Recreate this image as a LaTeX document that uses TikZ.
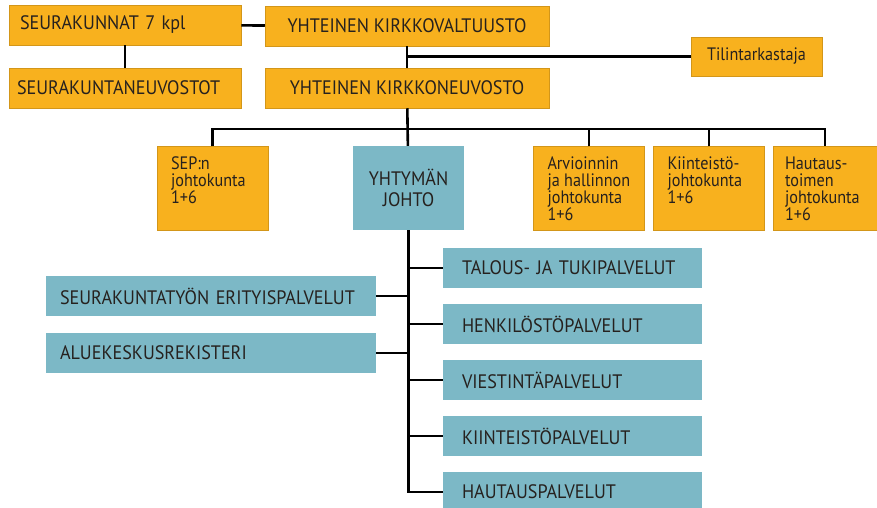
\documentclass[tikz,border=0pt]{standalone}
\usepackage{fontspec}
\setmainfont{PT Sans}[FakeStretch=0.93]
\newfontfamily\BoardFont{PT Sans}[FakeStretch=0.9]
\usepackage{tikz}
\usepackage{xcolor}
\definecolor{ColOrange}{RGB}{248,177,30}
\definecolor{ColBlue}{RGB}{124,184,198}
\definecolor{ColText}{RGB}{38,33,30}
\tikzstyle{OrgBox}=[rectangle,draw=ColOrange!85!black,line width=.5pt,fill=ColOrange,
text=ColText,font=\fontsize{19.5}{21}\selectfont,inner sep=0pt,minimum height=40pt]
\tikzstyle{BoardBox}=[OrgBox,font=\BoardFont\fontsize{18}{17}\selectfont,inner ysep=10pt]
\tikzstyle{ServBox}=[rectangle,fill=ColBlue,text=ColText,
font=\fontsize{19.5}{21}\selectfont,inner sep=0pt,minimum height=40pt]
\tikzstyle{LeftText}=[align=left]
\tikzstyle{EdgeOrg}=[black,line width=2.6pt]
\newcommand{\BoardText}[2][83pt]{\parbox[c][64pt][t]{#1}{\raggedright #2}}

\begin{document}
\begin{tikzpicture}[x=1pt,y=-1pt]
        \useasboundingbox(0,0)rectangle(877,508);
        % ylin taso
        \node[OrgBox,LeftText,text width=210pt,inner xsep=11pt](SeurK)at(125,25){SEURAKUNNAT 7 kpl};
        \node[OrgBox,minimum width=284pt](KValt)at(407,26){YHTEINEN KIRKKOVALTUUSTO};
        \node[OrgBox,LeftText,text width=216pt,inner xsep=8pt](SeurN)at(125,88){SEURAKUNTANEUVOSTOT};
        \node[OrgBox,minimum width=284pt](KNeuv)at(407,88){YHTEINEN KIRKKONEUVOSTO};
        \node[OrgBox,font=\BoardFont\fontsize{18}{17}\selectfont,minimum width=131pt,minimum height=39pt](Tilin)at(756.5,56.5){Tilintarkastaja};
        % johtokunnat
        \node[BoardBox,inner xsep=14pt](Sep)at(212.5,188.5){\BoardText{SEP:n\\johtokunta\\1+6}};
        \node[ServBox,align=center,minimum width=111pt,minimum height=84pt](Johto)at(408.5,188){YHTYMÄN\\JOHTO};
        \node[BoardBox,inner xsep=14pt](Arv)at(589,188.5){\BoardText{Arvioinnin\\ja~hallinnon\\johtokunta\\1+6}};
        \node[BoardBox,inner xsep=14pt](Kiin)at(709,188.5){\BoardText{Kiinteistö-\\johtokunta\\1+6}};
        \node[BoardBox,inner xsep=12pt](Haut)at(825,188.5){\BoardText[80pt]{Hautaus-\\toimen\\johtokunta\\1+6}};
        \coordinate(Bus)at(408,129);
        % palvelut
        \node[ServBox,LeftText,text width=302pt,inner xsep=14pt](SeurE)at(211,296){SEURAKUNTATYÖN ERITYISPALVELUT};
        \node[ServBox,LeftText,text width=302pt,inner xsep=14pt](Alue)at(211,353){ALUEKESKUSREKISTERI};
        \foreach \name/\txt [count=\i from 0] in {Talous/TALOUS- JA TUKIPALVELUT,
            Henk/HENKILÖSTÖPALVELUT,Viest/VIESTINTÄPALVELUT,
            KiinP/KIINTEISTÖPALVELUT,HautP/HAUTAUSPALVELUT}
            \node[ServBox,LeftText,text width=221pt,inner xsep=19pt](\name)at(572.5,268+56*\i){\txt};
        % viivat
        \draw[EdgeOrg](SeurK)--(KValt);
        \draw[EdgeOrg](SeurK)--(SeurN);
        \draw[EdgeOrg](KValt)--(KNeuv);
        \draw[EdgeOrg](KValt.south|-Tilin.west)--(Tilin.west);
        \draw[EdgeOrg](KNeuv)--(Johto);
        \draw[EdgeOrg](Sep.north)|-(Bus)-|(Haut.north);
        \draw[EdgeOrg](Arv.north)--(Arv.north|-Bus);
        \draw[EdgeOrg](Kiin.north)--(Kiin.north|-Bus);
        \draw[EdgeOrg](Johto.south)|-(HautP.west);
        \foreach \name in {Talous,Henk,Viest,KiinP}
            \draw[EdgeOrg](\name.west)--(\name.west-|Johto.south);
        \draw[EdgeOrg](SeurE.east)--(SeurE.east-|Johto.south);
        \draw[EdgeOrg](Alue.east)--(Alue.east-|Johto.south);
    \end{tikzpicture}
\end{document}
